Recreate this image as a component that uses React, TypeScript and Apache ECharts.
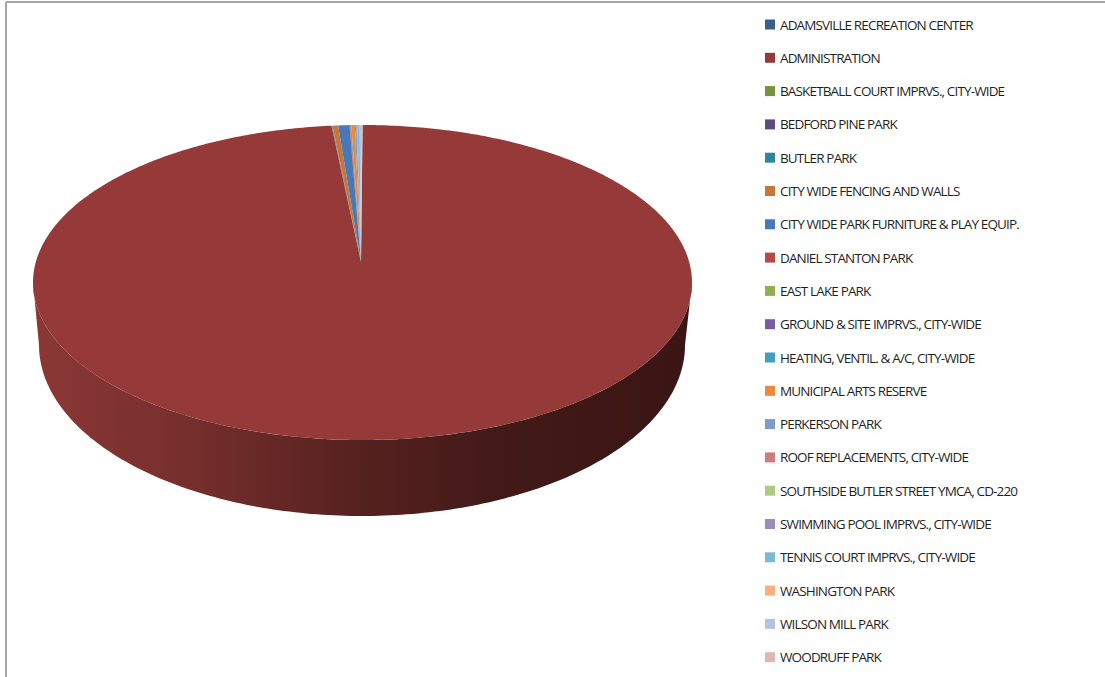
import React, { useEffect, useRef } from "react";
import * as echarts from "echarts";

const names = [
  "ADAMSVILLE RECREATION CENTER", "ADMINISTRATION", "BASKETBALL COURT IMPRVS., CITY-WIDE", "BEDFORD PINE PARK",
  "BUTLER PARK", "CITY WIDE FENCING AND WALLS", "CITY WIDE PARK FURNITURE & PLAY EQUIP.", "DANIEL STANTON PARK",
  "EAST LAKE PARK", "GROUND & SITE IMPRVS., CITY-WIDE", "HEATING, VENTIL. & A/C, CITY-WIDE", "MUNICIPAL ARTS RESERVE",
  "PERKERSON PARK", "ROOF REPLACEMENTS, CITY-WIDE", "SOUTHSIDE BUTLER STREET YMCA, CD-220", "SWIMMING POOL IMPRVS., CITY-WIDE",
  "TENNIS COURT IMPRVS., CITY-WIDE", "WASHINGTON PARK", "WILSON MILL PARK", "WOODRUFF PARK",
];
const values = [0.005, 98.5, 0.01, 0.02, 0.02, 0.27, 0.55, 0.03, 0.01, 0.03, 0.02, 0.17, 0.08, 0.02, 0.01, 0.02, 0.1, 0.01, 0.1, 0.03];
const colors = [
  "#3A5F8F", "#953A38", "#77933C", "#604A7B", "#31859C", "#C77635", "#4878B5", "#B44A48", "#8FB051", "#775C9E",
  "#41A0BB", "#EB8A3C", "#7F9ACB", "#CD7E7C", "#AFCA83", "#9C8CB8", "#7ABBD1", "#FBAF7B", "#B5C3E0", "#E0B6B6",
];

const top = { cx: 362.5, cy: 282.5, rx: 329.5, ry: 157.5 };
const apex = [361, 262];
const base = { cx: 362, cy: 345, rx: 323, ry: 171 };
const total = values.reduce((a, b) => a + b, 0);
const rim = (e: typeof top, t: number) => [e.cx + e.rx * Math.sin(t), e.cy - e.ry * Math.cos(t)];

function wallPoints() {
  const pts: number[][] = [];
  for (let i = 0; i <= 180; i++) pts.push(rim(top, Math.PI * 0.5 + (Math.PI * i) / 180));
  for (let i = 0; i <= 180; i++) pts.push(rim(base, Math.PI * 1.5 - (Math.PI * i) / 180));
  return pts;
}

function slicePoints(index: number) {
  const before = values.slice(0, index).reduce((a, b) => a + b, 0);
  const a0 = (before / total) * Math.PI * 2;
  const a1 = ((before + values[index]) / total) * Math.PI * 2;
  const steps = Math.max(2, Math.ceil((a1 - a0) * 90));
  const pts = [apex];
  for (let i = 0; i <= steps; i++) pts.push(rim(top, a0 + ((a1 - a0) * i) / steps));
  return pts;
}

const wallFill = () =>
  new echarts.graphic.LinearGradient(0, 0, 1, 0, [
    { offset: 0, color: "#8B3836" },
    { offset: 0.25, color: "#742E2C" },
    { offset: 0.5, color: "#55211F" },
    { offset: 0.7, color: "#431A18" },
    { offset: 1, color: "#3A1513" },
  ]);

export default function App() {
  const ref = useRef<HTMLDivElement>(null);
  useEffect(() => {
    document.body.style.margin = "0";
    const chart = echarts.init(ref.current!, undefined, { renderer: "svg" });
    chart.setOption({
      animation: false,
      backgroundColor: "#fff",
      graphic: [
        { type: "line", shape: { x1: 6, y1: 2, x2: 1105, y2: 2 }, style: { stroke: "#A6A6A6", lineWidth: 2 } },
        { type: "line", shape: { x1: 6, y1: 2, x2: 6, y2: 677 }, style: { stroke: "#A6A6A6", lineWidth: 2 } },
      ],
      legend: {
        orient: "vertical",
        left: 760,
        top: 12,
        selectedMode: false,
        itemWidth: 10,
        itemHeight: 10,
        itemGap: 18.3,
        icon: "rect",
        data: names,
        textStyle: { fontFamily: "Open Sans", fontSize: 13.5, color: "#1F1F1F", height: 15, lineHeight: 15 },
      },
      series: names.map((name, index) => ({
        type: "custom",
        name,
        coordinateSystem: "none",
        silent: true,
        itemStyle: { color: colors[index] },
        data: [values[index]],
        renderItem: () => {
          const children: any[] = [];
          if (index === 1) {
            children.push({
              type: "polygon",
              shape: { points: wallPoints() },
              style: { fill: wallFill() },
            });
          }
          children.push({
            type: "polygon",
            shape: { points: slicePoints(index) },
            style: { fill: colors[index] },
          });
          return { type: "group", children };
        },
      })),
    });
    return () => chart.dispose();
  }, []);
  return <div ref={ref} style={{ width: 1105, height: 677, letterSpacing: "-0.86px" }} />;
}
